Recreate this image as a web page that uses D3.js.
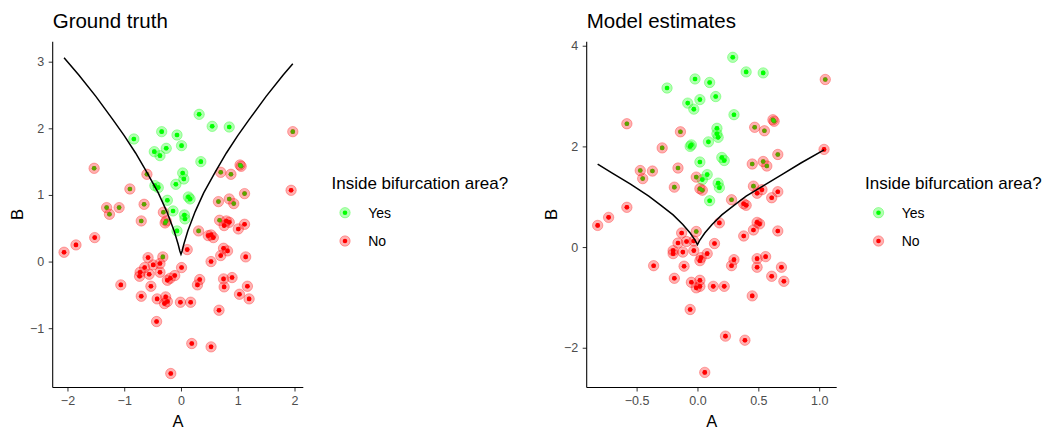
<!DOCTYPE html>
<html>
<head>
    <meta charset="utf-8">
    <title>Bifurcation area: ground truth vs model estimates</title>
    <script src="https://d3js.org/d3.v7.min.js"></script>
    <style>
        body { margin: 0; background: #fff; }
        svg { font-family: "Liberation Sans", Arial, Helvetica, sans-serif; }
        .tick text { fill: #4d4d4d; font-size: 12.5px; }
        .tick line { stroke: #333; }
        .domain { stroke: #000; stroke-width: 1.07px; }
    </style>
</head>
<body>
<svg width="1051" height="430"></svg>

<script>
// ---- data: [A, B] ----
// Ground truth panel
const groundYesYes = [
    [0.32, 2.21], [0.55, 2.03], [0.85, 2.02], [-0.83, 1.84], [-0.34, 1.95], [-0.07, 1.90],
    [-0.47, 1.65], [-0.26, 1.70], [0.01, 1.74], [-0.37, 1.59], [0.35, 1.50], [0.03, 1.33],
    [0.05, 1.24], [-0.09, 1.16], [-0.46, 1.14], [-0.40, 1.11], [0.13, 0.97], [0.16, 0.94],
    [-0.24, 0.92], [-0.14, 0.76], [0.07, 0.64], [0.06, 0.70], [-0.07, 0.46]
];
const groundNoYes = [
    [-1.53, 1.40], [-0.60, 1.31], [-0.90, 1.09], [0.70, 1.34], [0.88, 1.31], [1.04, 1.45],
    [1.06, 1.43], [1.12, 1.02], [0.66, 0.90], [0.85, 0.94], [0.93, 0.87], [-0.65, 0.86],
    [-1.31, 0.81], [-1.09, 0.81], [-1.26, 0.71], [-0.70, 0.61], [-0.31, 0.74], [-0.26, 0.61],
    [-0.28, 0.58], [0.31, 0.46], [-0.32, 0.07], [0.68, 0.62], [1.97, 1.95]
];
const groundNoNo = [
    [1.94, 1.07], [0.11, 0.18], [0.80, 0.61], [0.76, 0.54], [0.85, 0.59], [1.12, 0.56],
    [1.01, 0.49], [0.53, 0.40], [0.57, 0.36], [0.48, 0.39], [0.75, 0.20], [0.82, 0.16],
    [0.70, 0.09], [1.14, 0.07], [0.53, 0.00], [-2.06, 0.14], [-1.85, 0.25], [-1.52, 0.36],
    [-0.58, 0.06], [-0.49, -0.05], [-0.64, -0.09], [-0.72, -0.16], [-0.73, -0.22], [-0.56, -0.19],
    [-0.37, -0.03], [-0.37, -0.16], [0.01, -0.09], [-0.11, -0.21], [-0.19, -0.25], [-0.24, -0.28],
    [-0.53, -0.37], [-1.06, -0.35], [-0.70, -0.52], [-0.42, -0.56], [-0.27, -0.53], [-0.29, -0.63],
    [-0.24, -0.60], [-0.01, -0.61], [0.17, -0.61], [0.33, -0.27], [0.29, -0.35], [0.75, -0.26],
    [0.76, -0.38], [0.90, -0.24], [1.17, -0.37], [1.20, -0.56], [1.03, -0.49], [0.67, -0.73],
    [-0.43, -0.90], [0.19, -1.23], [0.53, -1.28], [-0.18, -1.68]
];
const groundCurve = [
    [-2.06, 3.06], [-1.8, 2.80], [-1.5, 2.48], [-1.2, 2.13], [-1.0, 1.89], [-0.8, 1.63],
    [-0.6, 1.34], [-0.4, 1.03], [-0.25, 0.75], [-0.12, 0.46], [-0.05, 0.26], [-0.02, 0.16],
    [0.0, 0.11],
    [0.02, 0.16], [0.05, 0.26], [0.12, 0.46], [0.25, 0.75], [0.4, 1.03], [0.6, 1.34],
    [0.8, 1.63], [1.0, 1.89], [1.2, 2.13], [1.5, 2.48], [1.8, 2.80], [1.97, 2.97]
];

// Model estimates panel
const modelYesYes = [
    [0.29, 3.77], [0.40, 3.48], [0.54, 3.46], [-0.25, 3.16], [-0.02, 3.34], [0.10, 3.27],
    [0.15, 2.99], [0.02, 2.93], [-0.08, 2.86], [-0.03, 2.74], [0.30, 2.63], [0.16, 2.36],
    [0.16, 2.25], [0.17, 2.18], [0.09, 2.09], [-0.06, 2.00], [-0.05, 2.03], [0.20, 1.78],
    [0.22, 1.72], [0.02, 1.69], [0.08, 1.44], [0.04, 1.34], [0.17, 1.27], [0.18, 1.18],
    [0.10, 0.92]
];
const modelNoYes = [
    [-0.58, 2.45], [-0.14, 2.29], [-0.29, 1.97], [-0.47, 1.52], [-0.37, 1.51], [-0.45, 1.36],
    [-0.16, 1.57], [-0.01, 1.39], [0.02, 1.16], [0.04, 1.13], [-0.19, 1.19], [0.28, 0.94],
    [0.47, 2.38], [0.55, 2.31], [0.62, 2.53], [0.63, 2.50], [0.45, 1.65], [0.54, 1.70],
    [0.57, 1.61], [0.66, 1.84], [0.46, 1.21], [1.05, 3.33], [-0.01, 0.31]
];
const modelNoNo = [
    [0.53, 1.14], [0.49, 1.07], [0.61, 0.98], [0.66, 1.10], [0.38, 0.86], [0.40, 0.83],
    [-0.58, 0.79], [1.04, 1.94], [-0.82, 0.43], [-0.73, 0.59], [0.18, 0.48], [-0.13, 0.28],
    [-0.16, 0.08], [-0.09, 0.11], [-0.03, 0.12], [-0.20, -0.07], [-0.20, -0.13], [-0.12, -0.10],
    [-0.03, -0.07], [0.08, -0.13], [0.14, 0.07], [0.03, -0.21], [0.02, -0.27], [-0.11, -0.38],
    [-0.36, -0.37], [-0.19, -0.62], [-0.05, -0.70], [0.02, -0.66], [0.02, -0.78], [-0.01, -0.81],
    [0.13, -0.78], [0.22, -0.78], [-0.06, -1.24], [0.23, -1.77], [0.39, -1.85], [0.06, -2.49],
    [0.30, -0.25], [0.28, -0.37], [0.38, 0.22], [0.46, 0.34], [0.49, 0.49], [0.51, 0.46],
    [0.66, 0.32], [0.56, -0.19], [0.49, -0.23], [0.49, -0.40], [0.61, -0.58], [0.69, -0.40],
    [0.71, -0.68], [0.45, -0.97]
];
const modelCurve = [
    [-0.82, 1.65], [-0.7, 1.47], [-0.55, 1.25], [-0.4, 1.01], [-0.3, 0.83], [-0.2, 0.64],
    [-0.12, 0.45], [-0.06, 0.28], [-0.02, 0.14], [0.0, 0.05],
    [0.02, 0.14], [0.06, 0.28], [0.12, 0.45], [0.2, 0.64], [0.3, 0.83], [0.4, 1.01],
    [0.55, 1.23], [0.7, 1.45], [0.85, 1.67], [1.04, 1.93]
];

const groundXTicks = [-2, -1, 0, 1, 2];
const groundYTicks = [-1, 0, 1, 2, 3];
const modelXTicks = [-0.5, 0.0, 0.5, 1.0];
const modelYTicks = [-2, 0, 2, 4];

const legendLabels = ["Yes", "No"];
const colors = {Yes: "#00FF00", No: "#FF0000"};

function toPoints(list, truth, est) {
    return list.map(d => ({a: d[0], b: d[1], truth: truth, est: est}));
}

const svg = d3.select("svg");

function drawPanel(opt) {
    const x = d3.scaleLinear().domain(opt.xDomain).range([opt.left, opt.right]);
    const y = d3.scaleLinear().domain(opt.yDomain).range([387.5, 41.7]);
    const g = svg.append("g");

    // title
    g.append("text")
        .attr("x", opt.left)
        .attr("y", 27.5)
        .attr("font-size", "20.5px")
        .attr("fill", "#000")
        .text(opt.title);

    // points: halo = truth, centre = truth colour with estimate colour on top
    const halos = g.append("g"), cores = g.append("g"), ests = g.append("g");
    opt.points.forEach(p => {
        halos.append("circle")
            .attr("cx", x(p.a)).attr("cy", y(p.b)).attr("r", 5.2)
            .attr("fill", colors[p.truth]).attr("fill-opacity", 0.3)
            .attr("stroke", colors[p.truth]).attr("stroke-opacity", 0.3)
            .attr("stroke-width", 1);
    });
    opt.points.forEach(p => {
        cores.append("circle")
            .attr("cx", x(p.a)).attr("cy", y(p.b)).attr("r", 2.3)
            .attr("fill", colors[p.truth]);
    });
    opt.points.forEach(p => {
        ests.append("circle")
            .attr("cx", x(p.a)).attr("cy", y(p.b)).attr("r", 2.3)
            .attr("fill", colors[p.est]).attr("fill-opacity", 0.65);
    });

    // bifurcation line
    g.append("path")
        .datum(opt.curve)
        .attr("fill", "none")
        .attr("stroke", "#000")
        .attr("stroke-width", 1.5)
        .attr("d", d3.line().x(d => x(d[0])).y(d => y(d[1])));

    // axes
    g.append("g")
        .attr("transform", "translate(0,387.5)")
        .call(d3.axisBottom(x).tickValues(opt.xTicks).tickFormat(opt.xFormat)
            .tickSize(4).tickSizeOuter(0).tickPadding(4.5));
    g.append("g")
        .attr("transform", "translate(" + opt.left + ",0)")
        .call(d3.axisLeft(y).tickValues(opt.yTicks).tickFormat(d3.format("d"))
            .tickSize(4).tickSizeOuter(0).tickPadding(4.5));
    g.selectAll(".domain").attr("d", null);
    g.append("line")
        .attr("x1", opt.left).attr("x2", opt.right)
        .attr("y1", 387.5).attr("y2", 387.5)
        .attr("stroke", "#000").attr("stroke-width", 1.07);
    g.append("line")
        .attr("x1", opt.left).attr("x2", opt.left)
        .attr("y1", 41.7).attr("y2", 387.5)
        .attr("stroke", "#000").attr("stroke-width", 1.07);

    // axis titles
    g.append("text")
        .attr("x", (opt.left + opt.right) / 2)
        .attr("y", 426.5)
        .attr("text-anchor", "middle")
        .attr("font-size", "16.5px")
        .text("A");
    g.append("text")
        .attr("transform", "translate(" + (opt.left - 29.5) + "," + ((41.7 + 387.5) / 2) + ") rotate(-90)")
        .attr("text-anchor", "middle")
        .attr("font-size", "16.5px")
        .text("B");

    // legend
    const lg = g.append("g").attr("transform", "translate(" + opt.legendX + ",0)");
    lg.append("text")
        .attr("x", 0).attr("y", 189)
        .attr("font-size", "17px")
        .text("Inside bifurcation area?");
    legendLabels.forEach((lab, i) => {
        const cy = 212.7 + i * 28.3;
        lg.append("circle")
            .attr("cx", 13.5).attr("cy", cy).attr("r", 5.2)
            .attr("fill", colors[lab]).attr("fill-opacity", 0.3)
            .attr("stroke", colors[lab]).attr("stroke-opacity", 0.3);
        lg.append("circle")
            .attr("cx", 13.5).attr("cy", cy).attr("r", 2.3)
            .attr("fill", colors[lab]);
        lg.append("text")
            .attr("x", 36.7).attr("y", cy + 5)
            .attr("font-size", "14px")
            .text(lab);
    });
}

drawPanel({
    title: "Ground truth",
    left: 52.7, right: 303.3,
    xDomain: [-2.26, 2.155], yDomain: [-1.89, 3.3],
    xTicks: groundXTicks, yTicks: groundYTicks,
    xFormat: d3.format("d"),
    curve: groundCurve,
    points: toPoints(groundYesYes, "Yes", "Yes")
        .concat(toPoints(groundNoYes, "No", "Yes"))
        .concat(toPoints(groundNoNo, "No", "No")),
    legendX: 331.5
});

drawPanel({
    title: "Model estimates",
    left: 586.7, right: 836.7,
    xDomain: [-0.91, 1.144], yDomain: [-2.79, 4.08],
    xTicks: modelXTicks, yTicks: modelYTicks,
    xFormat: d3.format(".1f"),
    curve: modelCurve,
    points: toPoints(modelYesYes, "Yes", "Yes")
        .concat(toPoints(modelNoYes, "No", "Yes"))
        .concat(toPoints(modelNoNo, "No", "No")),
    legendX: 865
});
</script>
</body>
</html>
